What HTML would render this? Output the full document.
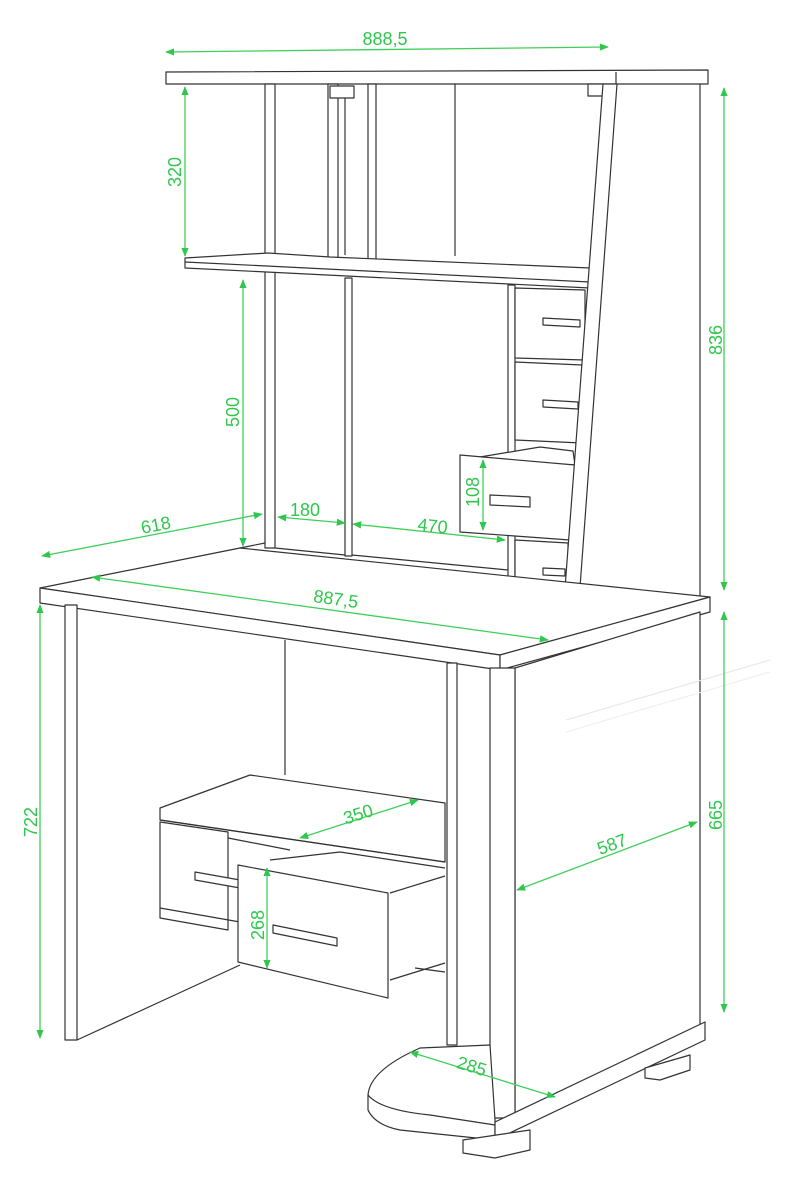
<!DOCTYPE html>
<html><head><meta charset="utf-8"><style>
html,body{margin:0;padding:0;background:#fff}
svg{display:block}
.l{fill:#fff;stroke:#333;stroke-width:1.2;stroke-linejoin:round}
.n{fill:none;stroke:#333;stroke-width:1.2}
.g{fill:none;stroke:#3fcf5a;stroke-width:1.3}
.t{font-family:"Liberation Sans",sans-serif;font-size:18px;fill:#2fc74d}
</style></head><body>
<svg width="794" height="1200" viewBox="0 0 794 1200" xmlns="http://www.w3.org/2000/svg">
<defs><marker id="a" viewBox="0 0 10 10" refX="9" refY="5" markerWidth="7" markerHeight="7" orient="auto-start-reverse"><path d="M0,1 L10,5 L0,9 z" fill="#2fc74d"/></marker></defs>

<!-- ===== Upper hutch ===== -->
<polygon class="l" points="166,72 708,70 708,84 166,84"/>
<line class="n" x1="616" y1="72" x2="616" y2="84"/>
<line class="n" x1="700" y1="84" x2="700" y2="600"/>
<rect class="l" x="265" y="84" width="10" height="464"/>
<rect class="l" x="328" y="84" width="10" height="188"/>
<rect class="l" x="330" y="86" width="24" height="12"/>
<line class="n" x1="345" y1="98" x2="345" y2="255"/>
<rect class="l" x="368" y="84" width="8" height="180"/>
<line class="n" x1="455" y1="84" x2="455" y2="256"/>
<rect class="l" x="588" y="84" width="16" height="12"/>
<polygon class="l" points="185,258 268,253 330,257 590,268 590,288 185,268"/>
<line class="n" x1="185" y1="262" x2="590" y2="282"/>
<rect class="l" x="345" y="278" width="7" height="278"/>
<line class="n" x1="275" y1="548" x2="345" y2="555"/>
<line class="n" x1="352" y1="555" x2="508" y2="570"/>
<line class="n" x1="240" y1="548" x2="265" y2="543"/>
<rect class="l" x="508" y="285" width="7" height="322"/>
<polygon class="l" points="515,288 585,290 585,360 515,358"/>
<polygon class="l" points="515,362 582,365 582,443 515,440"/>
<polygon class="l" points="515,540 568,543 568,610 515,607"/>
<polygon class="l" points="543,318 580,320 580,327 543,325"/>
<polygon class="l" points="543,400 578,402 578,409 543,407"/>
<polygon class="l" points="543,568 565,569 565,576 543,575"/>
<polygon class="l" points="480,457 540,447 573,451 575,465 480,460"/>
<polygon class="l" points="460,455 575,465 570,540 460,532"/>
<polygon class="l" points="490,495 530,497 530,507 490,505"/>
<polygon class="l" points="603,84 617,84 577,628 562,628"/>

<!-- ===== Desk ===== -->
<polygon class="l" points="40,588 240,548 710,597 500,655"/>
<polygon class="l" points="40,588 500,655 500,670 40,603"/>
<polygon class="l" points="500,655 710,597 710,612 500,670"/>
<line class="n" x1="285" y1="640" x2="285" y2="775"/>
<rect class="l" x="65" y="605" width="12" height="435"/>
<line class="n" x1="77" y1="1040" x2="240" y2="965"/>
<rect class="l" x="447" y="663" width="10" height="382"/>
<polygon class="l" points="160,808 250,775 445,803 445,862 160,820"/>
<line class="n" x1="160" y1="820" x2="445" y2="862"/>
<polygon class="l" points="160,822 228,832 228,930 160,918"/>
<line class="n" x1="160" y1="908" x2="240" y2="922"/>
<polygon class="l" points="195,872 240,880 240,888 195,880"/>
<line class="n" x1="228" y1="838" x2="290" y2="850"/>
<line class="n" x1="270" y1="860" x2="340" y2="852"/>
<line class="n" x1="340" y1="852" x2="445" y2="868"/>
<line class="n" x1="390" y1="893" x2="445" y2="876"/>
<line class="n" x1="390" y1="980" x2="445" y2="963"/>
<line class="n" x1="415" y1="968" x2="445" y2="972"/>
<polygon class="l" points="238,865 388,893 388,998 238,962"/>
<polygon class="l" points="273,925 337,938 337,946 273,933"/>
<polygon class="l" points="515,668 700,612 700,1025 515,1115"/>
<rect class="l" x="490" y="668" width="25" height="450"/>
<path class="l" d="M490,1045 L420,1048 Q370,1070 368,1095 L368,1110 Q375,1125 400,1130 L495,1140 L495,1120 Z"/>
<path class="n" d="M368,1095 Q380,1110 430,1115 L495,1125"/>
<polygon class="l" points="495,1122 705,1022 705,1040 495,1140"/>
<polygon class="l" points="463,1140 530,1130 530,1150 495,1158 463,1153"/>
<polygon class="l" points="645,1068 690,1055 690,1070 660,1080 645,1078"/>
<line x1="566" y1="720" x2="770" y2="660" style="stroke:#e6e6e6;stroke-width:1"/>
<line x1="566" y1="732" x2="770" y2="672" style="stroke:#eee;stroke-width:1"/>

<!-- ===== Dimensions ===== -->
<g class="g">
<line x1="166" y1="52" x2="608" y2="47" marker-start="url(#a)" marker-end="url(#a)"/>
<line x1="724" y1="88" x2="724" y2="590" marker-start="url(#a)" marker-end="url(#a)"/>
<line x1="185" y1="87" x2="185" y2="256" marker-start="url(#a)" marker-end="url(#a)"/>
<line x1="243" y1="280" x2="243" y2="546" marker-start="url(#a)" marker-end="url(#a)"/>
<line x1="42" y1="556" x2="262" y2="514" marker-start="url(#a)" marker-end="url(#a)"/>
<line x1="278" y1="517" x2="345" y2="523" marker-start="url(#a)" marker-end="url(#a)"/>
<line x1="353" y1="524" x2="505" y2="540" marker-start="url(#a)" marker-end="url(#a)"/>
<line x1="483" y1="460" x2="483" y2="530" marker-start="url(#a)" marker-end="url(#a)"/>
<line x1="92" y1="577" x2="548" y2="640" marker-start="url(#a)" marker-end="url(#a)"/>
<line x1="40" y1="605" x2="40" y2="1038" marker-start="url(#a)" marker-end="url(#a)"/>
<line x1="724" y1="612" x2="724" y2="1012" marker-start="url(#a)" marker-end="url(#a)"/>
<line x1="517" y1="890" x2="697" y2="822" marker-start="url(#a)" marker-end="url(#a)"/>
<line x1="300" y1="838" x2="418" y2="800" marker-start="url(#a)" marker-end="url(#a)"/>
<line x1="267" y1="868" x2="267" y2="968" marker-start="url(#a)" marker-end="url(#a)"/>
<line x1="410" y1="1052" x2="555" y2="1097" marker-start="url(#a)" marker-end="url(#a)"/>
</g>
<text class="t" x="385" y="45" text-anchor="middle">888,5</text>
<text class="t" transform="translate(722,340) rotate(-90)" text-anchor="middle">836</text>
<text class="t" transform="translate(181,172) rotate(-90)" text-anchor="middle">320</text>
<text class="t" transform="translate(239,412) rotate(-90)" text-anchor="middle">500</text>
<text class="t" transform="translate(157,531) rotate(-11)" text-anchor="middle">618</text>
<text class="t" x="305" y="516" text-anchor="middle">180</text>
<text class="t" transform="translate(432,532) rotate(6)" text-anchor="middle">470</text>
<text class="t" transform="translate(479,492) rotate(-90)" text-anchor="middle">108</text>
<text class="t" transform="translate(335,605) rotate(8)" text-anchor="middle">887,5</text>
<text class="t" transform="translate(37,822) rotate(-90)" text-anchor="middle">722</text>
<text class="t" transform="translate(722,815) rotate(-90)" text-anchor="middle">665</text>
<text class="t" transform="translate(614,850) rotate(-20)" text-anchor="middle">587</text>
<text class="t" transform="translate(360,820) rotate(-18)" text-anchor="middle">350</text>
<text class="t" transform="translate(264,925) rotate(-90)" text-anchor="middle">268</text>
<text class="t" transform="translate(470,1072) rotate(17)" text-anchor="middle">285</text>
</svg>
</body></html>
